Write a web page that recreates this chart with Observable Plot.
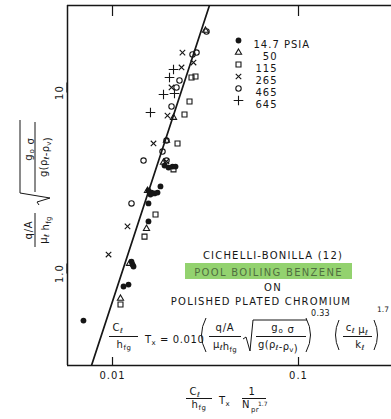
<!DOCTYPE html>
<html><head><meta charset="utf-8">
<script src="https://cdn.jsdelivr.net/npm/d3@7"></script>
<script src="https://cdn.jsdelivr.net/npm/@observablehq/plot@0.6"></script>
<style>
html,body{margin:0;padding:0;background:#fff;}
#chart{position:relative;width:391px;height:419px;overflow:hidden;}
#chart svg{font-family:"DejaVu Sans",sans-serif;display:block;}
</style></head><body><div id="chart"></div>
<script>
// ---- scales / ticks ----
const xDomain = [0.005728, 0.3162];
const yDomain = [0.3105, 30.25];
const xTicks = [0.01, 0.1];
const xTickLabels = ["0.01", "0.1"];
const yTicks = [1, 10];
const yTickLabels = ["1.0", "10"];

// ---- correlation line (endpoints) ----
const lineX = [0.00771, 0.0332];
const lineY = [0.3105, 30.25];

// ---- data by pressure (psia) ----
const seriesLabels = ["14.7 PSIA", "50", "115", "265", "465", "645"];

const p147X = [0.01904, 0.02000, 0.02102, 0.02182, 0.01811, 0.01561, 0.01621, 0.01682, 0.01746, 0.01600, 0.01561, 0.01561, 0.01265, 0.01281, 0.01297, 0.01146, 0.01219, 0.00698];
const p147Y = [3.95, 3.85, 3.90, 3.90, 3.03, 2.87, 2.80, 2.77, 2.80, 2.73, 2.44, 1.94, 1.165, 1.122, 1.094, 0.848, 0.869, 0.550];

const p50X = [0.03162, 0.02128, 0.01951, 0.01880, 0.01542, 0.01523, 0.01234, 0.01104];
const p50Y = [22.0, 7.27, 5.43, 4.11, 2.87, 1.77, 1.135, 0.728];

const p115X = [0.02659, 0.02793, 0.02594, 0.02438, 0.02236, 0.02128, 0.01703, 0.01486, 0.01104];
const p115Y = [12.10, 12.26, 8.92, 7.56, 5.23, 3.76, 2.12, 1.60, 0.675];

const p265X = [0.02377, 0.02726, 0.02350, 0.02076, 0.01975, 0.01661, 0.01951, 0.01204, 0.00952];
const p265Y = [16.63, 14.65, 13.75, 10.66, 7.46, 5.23, 4.16, 1.82, 1.274];

const p465X = [0.03201, 0.02692, 0.02829, 0.02291, 0.02208, 0.02076, 0.01951, 0.01857, 0.01468, 0.01951, 0.01265];
const p465Y = [21.73, 16.22, 16.63, 11.65, 10.66, 8.37, 5.43, 4.72, 4.21, 4.21, 2.44];

const p645X = [0.02128, 0.02025, 0.01880, 0.02154, 0.01600];
const p645Y = [13.40, 12.10, 9.75, 9.87, 7.75];

const INK = "#161616";
const styles = [
  {symbol: "circle", fill: INK, stroke: "none", r: 2.9},
  {symbol: "triangle", fill: "none", stroke: INK, r: 2.3},
  {symbol: "square", fill: "none", stroke: INK, r: 2.8},
  {symbol: "times", fill: "none", stroke: INK, r: 2.6},
  {symbol: "circle", fill: "none", stroke: INK, r: 2.7},
  {symbol: "plus", fill: "none", stroke: INK, r: 3.2}
];
const seriesX = [p147X, p50X, p115X, p265X, p465X, p645X];
const seriesY = [p147Y, p50Y, p115Y, p265Y, p465Y, p645Y];

const marks = [];
// frame (left, top, bottom)
marks.push(Plot.ruleX([xDomain[0]], {stroke: INK, strokeWidth: 1.5}));
marks.push(Plot.ruleY([yDomain[0], yDomain[1]], {stroke: INK, strokeWidth: 1.5}));
// axes
marks.push(Plot.axisX(xTicks, {anchor: "bottom", tickSize: -8, tickPadding: 14, strokeWidth: 1.2,
  tickFormat: d => xTickLabels[xTicks.indexOf(d)], fontSize: 10, label: null}));
marks.push(Plot.axisX(xTicks, {anchor: "top", tickSize: -10, tickPadding: 0, strokeWidth: 1.2,
  tickFormat: () => "", label: null}));
marks.push(Plot.axisY(yTicks, {anchor: "left", tickSize: -10, tickPadding: 15, strokeWidth: 1.2,
  rotate: -90, textAnchor: "middle", lineAnchor: "bottom",
  tickFormat: d => yTickLabels[yTicks.indexOf(d)], fontSize: 10, label: null}));
// correlation line
marks.push(Plot.line(lineX, {x: lineX, y: lineY, stroke: INK, strokeWidth: 1.7, clip: true}));
// data
seriesX.forEach((X, k) => {
  const s = styles[k];
  marks.push(Plot.dot(X, {x: X, y: seriesY[k], symbol: s.symbol, fill: s.fill, stroke: s.stroke, r: s.r, strokeWidth: 1.1}));
});
// legend
seriesLabels.forEach((lab, i) => {
  const s = styles[i];
  marks.push(Plot.dot([lab], {frameAnchor: "top-left", dx: 171, dy: 35 + 12 * i, symbol: s.symbol, fill: s.fill, stroke: s.stroke, r: s.r, strokeWidth: 1.1}));
  marks.push(Plot.text([lab], {frameAnchor: "top-left", text: d => d, dx: i === 0 ? 186 : 210, dy: 35 + 12 * i,
    textAnchor: i === 0 ? "start" : "end", fontSize: 10, fill: INK}));
});

const svg = Plot.plot({
  width: 391, height: 419,
  marginLeft: 67, marginRight: 0, marginTop: 5, marginBottom: 54,
  x: {type: "log", domain: xDomain},
  y: {type: "log", domain: yDomain},
  style: {fontFamily: "DejaVu Sans, sans-serif", fontSize: "10px", color: INK, background: "#fff", letterSpacing: "1px"},
  marks
});
document.getElementById("chart").appendChild(svg);

// ---- annotations, equations and axis titles ----
const S = d3.select(svg);
const ann = S.append("g").attr("fill", INK).attr("font-family", "DejaVu Sans, sans-serif");
function T(p, x, y, html, anchor = "start", size = 10, ls = 1, fill = INK) {
  return p.append("text").attr("x", x).attr("y", y).attr("text-anchor", anchor)
    .attr("font-size", size).attr("letter-spacing", ls).attr("fill", fill).html(html);
}
function L(p, x1, y1, x2, y2, w = 1) {
  p.append("line").attr("x1", x1).attr("y1", y1).attr("x2", x2).attr("y2", y2)
    .attr("stroke", INK).attr("stroke-width", w);
}
function P(p, d, w = 1) {
  p.append("path").attr("d", d).attr("fill", "none").attr("stroke", INK).attr("stroke-width", w);
}
const subN = (s) => `<tspan font-size="7" dy="2">${s}</tspan><tspan dy="-2"></tspan>`;

// title block
T(ann, 273, 259, "CICHELLI-BONILLA (12)", "middle", 10, 1.2);
ann.append("rect").attr("x", 185).attr("y", 263).attr("width", 167).attr("height", 16).attr("fill", "#93d26f");
T(ann, 268.5, 275.5, "POOL BOILING BENZENE", "middle", 10, 1.3, "#4f6d3f");
T(ann, 273, 291, "ON", "middle", 10, 1.2);
T(ann, 261, 305, "POLISHED PLATED CHROMIUM", "middle", 10, 1.2);

// equation
const eq = ann.append("g");
T(eq, 118, 331, "C" + subN("ℓ"), "middle", 10, 0.5);
L(eq, 109, 336.5, 138, 336.5);
T(eq, 124, 348, "h" + subN("fg"), "middle", 10, 0.5);
T(eq, 145, 343, "T" + subN("x"), "start", 10, 0.5);
T(eq, 160, 343, "= 0.010", "start", 10, 0.6);
P(eq, "M206,318 Q197,335 206,352");
T(eq, 225, 331, "q/A", "middle", 10, 0.8);
L(eq, 209, 336.5, 241, 336.5);
T(eq, 225, 348, "μ" + subN("ℓ") + "h" + subN("fg"), "middle", 10, 0.3);
P(eq, "M243,339 L246,337 L250,351 L253,320 L307,320");
T(eq, 283, 331, "g" + subN("o") + " σ", "middle", 10, 0.8);
L(eq, 256, 336.5, 306, 336.5);
T(eq, 278, 348, "g(ρ" + subN("ℓ") + "-ρ" + subN("v") + ")", "middle", 10, 0.3);
P(eq, "M306,318 Q315,335 306,352");
T(eq, 311, 316, "0.33", "start", 8, 0.3);
P(eq, "M339,320 Q332,335 339,350");
T(eq, 357, 331, "c" + subN("ℓ") + " μ" + subN("ℓ"), "middle", 10, 0.3);
L(eq, 343, 336.5, 372, 336.5);
T(eq, 360, 348, "k" + subN("ℓ"), "middle", 10, 0.3);
P(eq, "M374,320 Q381,335 374,350");
T(eq, 377, 312, "1.7", "start", 7.5, 0);

// x-axis title
const xt = ann.append("g");
T(xt, 195, 395, "C" + subN("ℓ"), "middle", 10, 0.5);
L(xt, 186, 398.5, 212, 398.5);
T(xt, 199, 408, "h" + subN("fg"), "middle", 10, 0.5);
T(xt, 219, 404, "T" + subN("x"), "start", 10, 0.5);
T(xt, 252, 395, "1", "middle", 10, 0.5);
L(xt, 242, 398.5, 266, 398.5);
T(xt, 242, 408, "N", "start", 10, 0.5);
T(xt, 251, 412, "pr", "start", 7, 0.3);
T(xt, 258, 405.5, "1.7", "start", 6, 0);

// y-axis title (rotated)
const yt = ann.append("g").attr("transform", "translate(35,247) rotate(-90)");
T(yt, 17, -3, "q/A", "middle", 10, 0.8);
L(yt, 0, 0, 34, 0);
T(yt, 17, 12, "μ" + subN("ℓ") + " h" + subN("fg"), "middle", 10, 0.3);
P(yt, "M42,4 L45,2 L49,15 L54,-15 L127,-15");
T(yt, 98, -3, "g" + subN("o") + " σ", "middle", 10, 0.8);
L(yt, 55, 0, 125, 0);
T(yt, 90, 12, "g(ρ" + subN("ℓ") + "-ρ" + subN("v") + ")", "middle", 10, 0.3);
</script></body></html>
